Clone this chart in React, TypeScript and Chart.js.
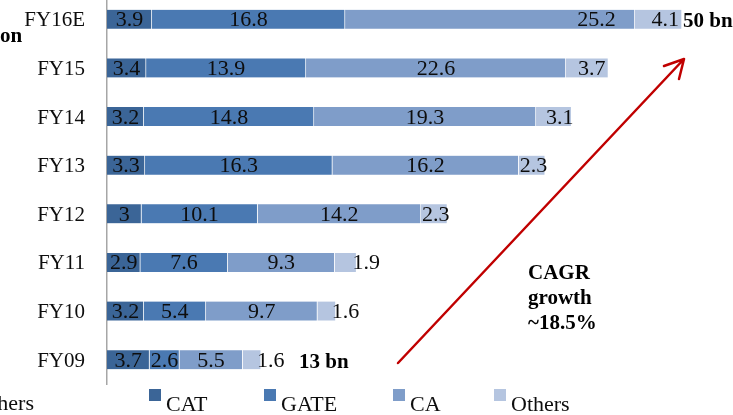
import React, { useEffect, useRef } from 'react';
import { Chart, registerables } from 'chart.js';

Chart.register(...registerables);

// Fiscal years, newest first (top of the chart)
const categories = ['FY16E', 'FY15', 'FY14', 'FY13', 'FY12', 'FY11', 'FY10', 'FY09'];

// Segment sizes per year
const catValues = [3.9, 3.4, 3.2, 3.3, 3, 2.9, 3.2, 3.7];
const gateValues = [16.8, 13.9, 14.8, 16.3, 10.1, 7.6, 5.4, 2.6];
const caValues = [25.2, 22.6, 19.3, 16.2, 14.2, 9.3, 9.7, 5.5];
const othersValues = [4.1, 3.7, 3.1, 2.3, 2.3, 1.9, 1.6, 1.6];

const seriesNames = ['CAT', 'GATE', 'CA', 'Others'];
const seriesValues = [catValues, gateValues, caValues, othersValues];
const seriesColors = ['#3b6597', '#4a79b2', '#7f9dc9', '#b5c5e0'];

// Market-size callouts at the ends of the first and last bars
const totalCallouts = [
  { category: 'FY16E', text: '50 bn' },
  { category: 'FY09', text: '13 bn' },
];
const cagrLines = ['CAGR', 'growth', '~18.5%'];

// The canvas is lifted a few pixels so the first band starts above the frame
const SHIFT = 5;
const FONT = '"Liberation Serif", "Times New Roman", serif';

const calloutGap: Record<string, number> = { FY16E: 1, FY09: 38 };
const legendX = [149, 264, 393, 494];

const overlayPlugin = {
  id: 'overlay',
  afterDatasetsDraw(chart: any) {
    const ctx: CanvasRenderingContext2D = chart.ctx;
    const yScale = chart.scales.y;
    ctx.save();
    ctx.font = `21px ${FONT}`;
    ctx.fillStyle = '#0d0d0d';
    ctx.textBaseline = 'alphabetic';

    // category labels, right-aligned before the axis line
    ctx.textAlign = 'right';
    categories.forEach((c, j) => {
      ctx.fillText(c, 85, yScale.getPixelForValue(j) + 7);
    });
    ctx.textAlign = 'left';

    // value labels on each segment
    ctx.font = `22px ${FONT}`;
    chart.data.datasets.forEach((ds: any, i: number) => {
      const meta = chart.getDatasetMeta(i);
      meta.data.forEach((el: any, j: number) => {
        const text = String(ds.data[j]);
        const w = ctx.measureText(text).width;
        const start = Math.min(el.base, el.x);
        const end = Math.max(el.base, el.x);
        const seg = end - start;
        const y = el.y + 7;
        let left: number;
        if (ds.label === 'Others') {
          if (seg < 24) left = end - 4;
          else if (seg > w + 10) left = end - 3 - w;
          else left = end + 2 - w;
        } else if (ds.label === 'CA' && categories[j] === 'FY16E') {
          left = end - 19 - w;
        } else {
          left = (start + end) / 2 - w / 2;
        }
        ctx.fillText(text, left, y);
      });
    });

    // total callouts
    const lastMeta = chart.getDatasetMeta(chart.data.datasets.length - 1);
    ctx.font = `bold 21px ${FONT}`;
    ctx.fillStyle = '#000';
    totalCallouts.forEach((c) => {
      const j = categories.indexOf(c.category);
      const el: any = lastMeta.data[j];
      ctx.fillText(c.text, el.x + (calloutGap[c.category] ?? 4), el.y + 8);
    });

    // CAGR note
    cagrLines.forEach((line, k) => {
      ctx.fillText(line, 528, 279 + SHIFT + k * 25);
    });

    // cropped captions at the left edge
    ctx.fillText('on', 0, 42 + SHIFT);
    ctx.font = `22px ${FONT}`;
    ctx.fillStyle = '#0d0d0d';
    ctx.textAlign = 'right';
    ctx.fillText('Others', 34, 410 + SHIFT);
    ctx.textAlign = 'left';

    // growth arrow
    ctx.strokeStyle = '#c00000';
    ctx.lineWidth = 2.5;
    ctx.lineCap = 'round';
    ctx.lineJoin = 'round';
    ctx.beginPath();
    ctx.moveTo(398, 363 + SHIFT);
    ctx.lineTo(684, 59 + SHIFT);
    ctx.moveTo(664, 66 + SHIFT);
    ctx.lineTo(684, 59 + SHIFT);
    ctx.lineTo(679, 79 + SHIFT);
    ctx.stroke();

    // legend
    seriesNames.forEach((name, i) => {
      const x = legendX[i];
      ctx.fillStyle = seriesColors[i];
      ctx.fillRect(x, 389 + SHIFT, 12, 12);
      ctx.fillStyle = '#0d0d0d';
      ctx.fillText(name, x + 17, 411 + SHIFT);
    });
    ctx.restore();
  },
};

export default function App() {
  const ref = useRef<HTMLCanvasElement | null>(null);

  useEffect(() => {
    document.body.style.margin = '0';
    if (!ref.current) return;
    const chart = new Chart(ref.current, {
      type: 'bar',
      data: {
        labels: categories,
        datasets: seriesNames.map((name, i) => ({
          label: name,
          data: seriesValues[i],
          backgroundColor: seriesColors[i],
          borderColor: 'rgba(255,255,255,0.45)',
          borderWidth: { top: 0, bottom: 0, left: 0, right: 1 },
          borderSkipped: false,
          barThickness: 19,
        })),
      },
      options: {
        indexAxis: 'y',
        responsive: false,
        animation: false,
        layout: { padding: { top: 0, right: 51, bottom: 36, left: 0 } },
        plugins: {
          legend: { display: false },
          tooltip: { enabled: false },
          title: { display: false },
        },
        scales: {
          x: { stacked: true, min: 0, max: 50, display: false },
          y: {
            stacked: true,
            afterFit: (s: any) => {
              s.width = 107;
            },
            grid: { display: false, drawTicks: false },
            border: { display: true, color: '#a6a6a6', width: 1.5 },
            ticks: { display: false },
          },
        },
      },
      plugins: [overlayPlugin],
    });
    return () => chart.destroy();
  }, []);

  return (
    <div style={{ width: 733, height: 415, overflow: 'hidden', position: 'relative', background: '#fff' }}>
      <canvas
        ref={ref}
        width={733}
        height={425}
        style={{ position: 'absolute', left: 0, top: -SHIFT, width: 733, height: 425 }}
      />
    </div>
  );
}
